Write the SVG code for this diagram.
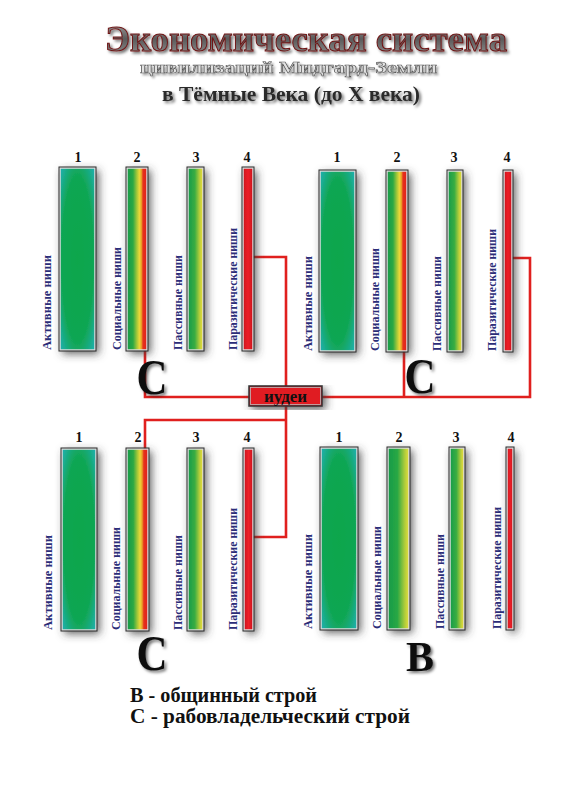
<svg xmlns="http://www.w3.org/2000/svg" width="579" height="800" viewBox="0 0 579 800">
<defs>
<style>
text{font-family:"Liberation Serif","DejaVu Serif",serif;font-weight:bold}
.bar{stroke:#dcdcdc;stroke-width:1.5}
.frame{fill:none;stroke:#2a2a2a;stroke-width:1}
.num{font-size:14px;fill:#111;text-anchor:middle}
.lbl{font-size:12px;fill:#2b2d78}
.big{fill:#111;text-anchor:middle}
.wire{fill:none;stroke:#e0201e;stroke-width:2.6;stroke-linejoin:miter}
.leg{font-size:20px;fill:#111}
.t1{font-size:36px;fill:url(#tg);stroke:#6e1414;stroke-width:1}
.t2{font-size:17px;fill:#e2e2e2;stroke:#555;stroke-width:0.6}
.t3{font-size:21px;fill:#2a2a2a}
.jd{font-size:17px;fill:#111;text-anchor:middle}
</style>
<filter id="sh" x="-60%" y="-20%" width="220%" height="140%">
<feGaussianBlur in="SourceAlpha" stdDeviation="4.5"/>
<feOffset dx="3" dy="3" result="b"/>
<feFlood flood-color="#3a3a3a" flood-opacity="0.8"/>
<feComposite in2="b" operator="in"/>
<feMerge><feMergeNode/><feMergeNode in="SourceGraphic"/></feMerge>
</filter>
<filter id="tsh" x="-10%" y="-30%" width="120%" height="160%">
<feGaussianBlur in="SourceAlpha" stdDeviation="1.5"/>
<feOffset dx="2" dy="2" result="b"/>
<feFlood flood-color="#000" flood-opacity="0.55"/>
<feComposite in2="b" operator="in"/>
<feMerge><feMergeNode/><feMergeNode in="SourceGraphic"/></feMerge>
</filter>
<filter id="tsh2" x="-10%" y="-30%" width="120%" height="160%">
<feGaussianBlur in="SourceAlpha" stdDeviation="1"/>
<feOffset dx="1.5" dy="1.5" result="b"/>
<feFlood flood-color="#000" flood-opacity="0.35"/>
<feComposite in2="b" operator="in"/>
<feMerge><feMergeNode/><feMergeNode in="SourceGraphic"/></feMerge>
</filter>
<radialGradient id="g1" cx="0.5" cy="0.5" r="0.75">
<stop offset="0" stop-color="#0aa64c"/>
<stop offset="0.6" stop-color="#10a652"/>
<stop offset="1" stop-color="#24b2c6"/>
</radialGradient>
<linearGradient id="g2c" x1="0" y1="0" x2="1" y2="0">
<stop offset="0" stop-color="#159a48"/>
<stop offset="0.3" stop-color="#2ea844"/>
<stop offset="0.5" stop-color="#a8c838"/>
<stop offset="0.62" stop-color="#ead83a"/>
<stop offset="0.72" stop-color="#eaa028"/>
<stop offset="0.8" stop-color="#e5301e"/>
<stop offset="1" stop-color="#e0201e"/>
</linearGradient>
<linearGradient id="g2b" x1="0" y1="0" x2="1" y2="0">
<stop offset="0" stop-color="#159a48"/>
<stop offset="0.45" stop-color="#2aa844"/>
<stop offset="0.8" stop-color="#b0cc3a"/>
<stop offset="1" stop-color="#e6e040"/>
</linearGradient>
<linearGradient id="g3" x1="0" y1="0" x2="1" y2="0">
<stop offset="0" stop-color="#179c4a"/>
<stop offset="0.45" stop-color="#38ac42"/>
<stop offset="0.8" stop-color="#c0d03a"/>
<stop offset="1" stop-color="#eadc3c"/>
</linearGradient>
<linearGradient id="g4" x1="0" y1="0" x2="1" y2="0">
<stop offset="0" stop-color="#c8141c"/>
<stop offset="0.5" stop-color="#ee2028"/>
<stop offset="1" stop-color="#c8141c"/>
</linearGradient>
<linearGradient id="tg" x1="0" y1="0" x2="0" y2="1">
<stop offset="0" stop-color="#b0b0b0"/>
<stop offset="0.5" stop-color="#5a5a5a"/>
<stop offset="1" stop-color="#9a9a9a"/>
</linearGradient>
</defs>
<rect width="579" height="800" fill="#fff"/>

<g id="title">
<text class="t1" x="105" y="51" textLength="402" lengthAdjust="spacingAndGlyphs" filter="url(#tsh)">Экономическая система</text>
<text class="t2" x="140" y="73" textLength="297" lengthAdjust="spacingAndGlyphs" filter="url(#tsh2)">цивилизаций Мидгард-Земли</text>
<text class="t3" x="162" y="101" textLength="258" lengthAdjust="spacingAndGlyphs" filter="url(#tsh)">в Тёмные Века (до X века)</text>
</g>

<g id="connectors">
<polyline class="wire" points="253,257 286,257 286,537 253,537"/>
<polyline class="wire" points="145,350 145,397 249,397"/>
<polyline class="wire" points="322,397 530,397 530,258 512,258"/>
<polyline class="wire" points="404,351 404,397"/>
<polyline class="wire" points="286,420 145,420 145,449"/>
</g>

<g id="node-judei">
<rect x="249" y="386" width="73" height="20" fill="#e01a22" stroke="#333" stroke-width="1.5" filter="url(#sh)"/>
<rect x="250.5" y="387.5" width="70" height="17" fill="none" stroke="#bbb" stroke-width="0.8"/>
<text class="jd" x="285.5" y="402">иудеи</text>
</g>

<g id="group-top-left">
<g filter="url(#sh)">
<rect class="bar" x="60" y="168" width="35" height="182" fill="url(#g1)"/>
<rect class="bar" x="127" y="168" width="20" height="182" fill="url(#g2c)"/>
<rect class="bar" x="188" y="168" width="15" height="182" fill="url(#g3)"/>
<rect class="bar" x="243" y="168" width="10" height="182" fill="url(#g4)"/>
</g>
<rect class="frame" x="59" y="167" width="37" height="184"/>
<rect class="frame" x="126" y="167" width="22" height="184"/>
<rect class="frame" x="187" y="167" width="17" height="184"/>
<rect class="frame" x="242" y="167" width="12" height="184"/>
<text class="num" x="78" y="162">1</text>
<text class="num" x="137" y="162">2</text>
<text class="num" x="196" y="162">3</text>
<text class="num" x="247" y="162">4</text>
<text class="lbl" transform="translate(51,350) rotate(-90)" textLength="95" lengthAdjust="spacingAndGlyphs">Активные ниши</text>
<text class="lbl" transform="translate(121,350) rotate(-90)" textLength="103" lengthAdjust="spacingAndGlyphs">Социальные ниши</text>
<text class="lbl" transform="translate(182,350) rotate(-90)" textLength="95" lengthAdjust="spacingAndGlyphs">Пассивные ниши</text>
<text class="lbl" transform="translate(237,350) rotate(-90)" textLength="122" lengthAdjust="spacingAndGlyphs">Паразитические ниши</text>
<text class="big" x="152" y="394" font-size="50" textLength="31" lengthAdjust="spacingAndGlyphs" filter="url(#tsh)">С</text>
</g>

<g id="group-top-right">
<g filter="url(#sh)">
<rect class="bar" x="320" y="171" width="35" height="180" fill="url(#g1)"/>
<rect class="bar" x="387" y="171" width="20" height="180" fill="url(#g2c)"/>
<rect class="bar" x="448" y="171" width="14" height="180" fill="url(#g3)"/>
<rect class="bar" x="504" y="171" width="8" height="180" fill="url(#g4)"/>
</g>
<rect class="frame" x="319" y="170" width="37" height="182"/>
<rect class="frame" x="386" y="170" width="22" height="182"/>
<rect class="frame" x="447" y="170" width="16" height="182"/>
<rect class="frame" x="503" y="170" width="10" height="182"/>
<text class="num" x="337" y="162">1</text>
<text class="num" x="397" y="162">2</text>
<text class="num" x="454" y="162">3</text>
<text class="num" x="507" y="162">4</text>
<text class="lbl" transform="translate(312,351) rotate(-90)" textLength="95" lengthAdjust="spacingAndGlyphs">Активные ниши</text>
<text class="lbl" transform="translate(379,351) rotate(-90)" textLength="103" lengthAdjust="spacingAndGlyphs">Социальные ниши</text>
<text class="lbl" transform="translate(441,351) rotate(-90)" textLength="95" lengthAdjust="spacingAndGlyphs">Пассивные ниши</text>
<text class="lbl" transform="translate(496,351) rotate(-90)" textLength="122" lengthAdjust="spacingAndGlyphs">Паразитические ниши</text>
<text class="big" x="420" y="393" font-size="50" textLength="31" lengthAdjust="spacingAndGlyphs" filter="url(#tsh)">С</text>
</g>

<g id="group-bottom-left">
<g filter="url(#sh)">
<rect class="bar" x="62" y="449" width="34" height="181" fill="url(#g1)"/>
<rect class="bar" x="127" y="449" width="21" height="181" fill="url(#g2c)"/>
<rect class="bar" x="188" y="449" width="15" height="181" fill="url(#g3)"/>
<rect class="bar" x="244" y="449" width="9" height="181" fill="url(#g4)"/>
</g>
<rect class="frame" x="61" y="448" width="36" height="183"/>
<rect class="frame" x="126" y="448" width="23" height="183"/>
<rect class="frame" x="187" y="448" width="17" height="183"/>
<rect class="frame" x="243" y="448" width="11" height="183"/>
<text class="num" x="79" y="442">1</text>
<text class="num" x="138" y="442">2</text>
<text class="num" x="196" y="442">3</text>
<text class="num" x="247" y="442">4</text>
<text class="lbl" transform="translate(52,630) rotate(-90)" textLength="95" lengthAdjust="spacingAndGlyphs">Активные ниши</text>
<text class="lbl" transform="translate(120,630) rotate(-90)" textLength="103" lengthAdjust="spacingAndGlyphs">Социальные ниши</text>
<text class="lbl" transform="translate(182,630) rotate(-90)" textLength="95" lengthAdjust="spacingAndGlyphs">Пассивные ниши</text>
<text class="lbl" transform="translate(237,630) rotate(-90)" textLength="122" lengthAdjust="spacingAndGlyphs">Паразитические ниши</text>
<text class="big" x="152" y="670" font-size="50" textLength="31" lengthAdjust="spacingAndGlyphs" filter="url(#tsh)">С</text>
</g>

<g id="group-bottom-right">
<g filter="url(#sh)">
<rect class="bar" x="321" y="448" width="36" height="181" fill="url(#g1)"/>
<rect class="bar" x="388" y="448" width="21" height="181" fill="url(#g2b)"/>
<rect class="bar" x="450" y="448" width="14" height="181" fill="url(#g3)"/>
<rect class="bar" x="507" y="448" width="6" height="181" fill="url(#g4)"/>
</g>
<rect class="frame" x="320" y="447" width="38" height="183"/>
<rect class="frame" x="387" y="447" width="23" height="183"/>
<rect class="frame" x="449" y="447" width="16" height="183"/>
<rect class="frame" x="506" y="447" width="8" height="183"/>
<text class="num" x="339" y="442">1</text>
<text class="num" x="399" y="442">2</text>
<text class="num" x="456" y="442">3</text>
<text class="num" x="511" y="442">4</text>
<text class="lbl" transform="translate(312,629) rotate(-90)" textLength="95" lengthAdjust="spacingAndGlyphs">Активные ниши</text>
<text class="lbl" transform="translate(381,629) rotate(-90)" textLength="103" lengthAdjust="spacingAndGlyphs">Социальные ниши</text>
<text class="lbl" transform="translate(444,629) rotate(-90)" textLength="95" lengthAdjust="spacingAndGlyphs">Пассивные ниши</text>
<text class="lbl" transform="translate(501,629) rotate(-90)" textLength="122" lengthAdjust="spacingAndGlyphs">Паразитические ниши</text>
<text class="big" x="420" y="671" font-size="42" textLength="28" lengthAdjust="spacingAndGlyphs" filter="url(#tsh)">В</text>
</g>

<g id="legend">
<text class="leg" x="130" y="702" textLength="187" lengthAdjust="spacingAndGlyphs">В - общинный строй</text>
<text class="leg" x="130" y="723" textLength="280" lengthAdjust="spacingAndGlyphs">С - рабовладельческий строй</text>
</g>
</svg>
